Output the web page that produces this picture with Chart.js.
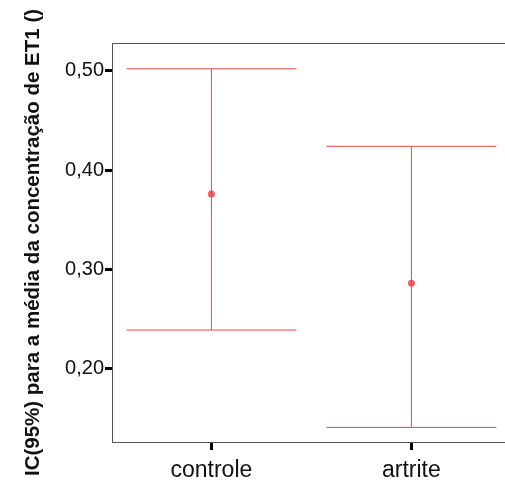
<!DOCTYPE html>
<html>
<head>
<meta charset="utf-8">
<script src="https://cdn.jsdelivr.net/npm/chart.js@4"></script>
<style>
  html, body { margin: 0; padding: 0; background: #fff; overflow: hidden; }
  #wrap { width: 509px; height: 481px; }
</style>
</head>
<body>
<div id="wrap"><canvas id="chart"></canvas></div>
<script>
// dados (IC 95%)
const categories = ['controle', 'artrite'];
const means = [0.376, 0.286];
const lower = [0.239, 0.141];
const upper = [0.502, 0.424];
const yTicks = [0.20, 0.30, 0.40, 0.50];

const red = 'rgb(238, 68, 68)';
const capHalf = 0.425;

const datasets = [];
categories.forEach((c, i) => {
  // linha vertical
  datasets.push({ type: 'line', data: [{ x: i, y: lower[i] }, { x: i, y: upper[i] }] });
  // barras horizontais
  datasets.push({ type: 'line', data: [{ x: i - capHalf, y: upper[i] }, { x: i + capHalf, y: upper[i] }] });
  datasets.push({ type: 'line', data: [{ x: i - capHalf, y: lower[i] }, { x: i + capHalf, y: lower[i] }] });
});
datasets.forEach(d => {
  d.borderColor = red;
  d.borderWidth = 1;
  d.pointRadius = 0;
  d.fill = false;
});
datasets.push({
  type: 'scatter',
  data: means.map((m, i) => ({ x: i, y: m })),
  pointRadius: 3.5,
  pointBorderWidth: 0,
  pointBackgroundColor: 'rgba(240, 70, 70, 0.85)',
});

const font = "'Liberation Sans', Arial, sans-serif";

new Chart(document.getElementById('chart'), {
  data: { datasets },
  options: {
    responsive: true,
    maintainAspectRatio: false,
    animation: false,
    layout: { padding: { top: 43, left: 0, right: 0, bottom: 0 } },
    plugins: { legend: { display: false }, tooltip: { enabled: false } },
    scales: {
      x: {
        type: 'linear',
        position: 'bottom',
        min: -0.497,
        max: 1.468,
        afterBuildTicks: s => { s.ticks = categories.map((c, i) => ({ value: i })); },
        afterFit: s => { s.height = 39; },
        ticks: {
          callback: v => categories[v],
          font: { family: font, size: 23 },
          color: '#111',
          padding: 7,
          maxRotation: 0,
        },
        grid: { drawOnChartArea: false, drawTicks: true, tickLength: 8, tickColor: '#000', tickWidth: 3 },
        border: { color: '#555', width: 1 },
      },
      x2: {
        type: 'linear',
        position: 'top',
        afterFit: s => { s.height = 0; },
        ticks: { display: false },
        grid: { display: false, drawTicks: false },
        border: { color: '#555', width: 1 },
      },
      y: {
        type: 'linear',
        min: 0.1263,
        max: 0.528,
        afterBuildTicks: s => { s.ticks = yTicks.map(v => ({ value: v })); },
        afterFit: s => { s.width = 112; },
        ticks: {
          callback: v => v.toFixed(2).replace('.', ','),
          font: { family: font, size: 20 },
          color: '#111',
          padding: 1,
        },
        grid: { drawOnChartArea: false, drawTicks: true, tickLength: 7, tickColor: '#000', tickWidth: 3 },
        border: { color: '#555', width: 1 },
        title: {
          display: true,
          text: 'IC(95%) para a média da concentração de ET1 ()',
          font: { family: font, size: 20.5, weight: 'bold' },
          color: '#111',
          padding: { top: 21, bottom: 0 },
        },
      },
    },
  },
});
</script>
</body>
</html>
